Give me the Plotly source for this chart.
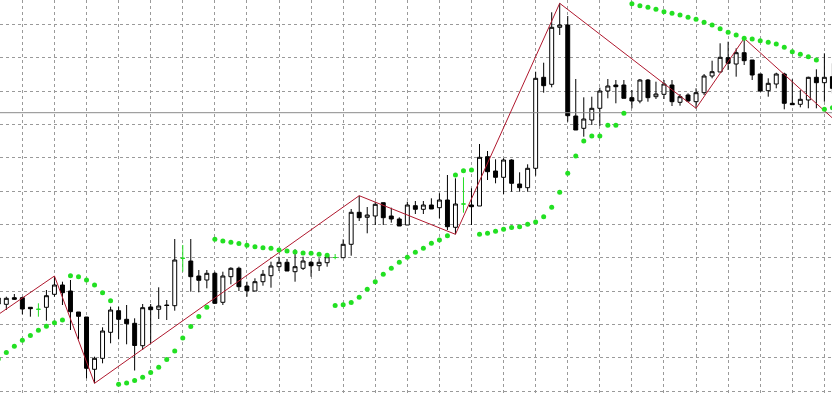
import plotly.graph_objects as go

# Prices in chart points (one grid step = 33.33 points)
opens = [87, 86.7, 93.3, 93.3, 83.7, 81.7, 83.7, 96.7, 106, 100,
         79, 74, 21.7, 32.7, 58.7, 80.3, 71.7, 67.7, 45.3, 84,
         81.7, 86, 85.3, 132.7, 130, 115, 111, 117.7, 88.7, 114.3,
         122.7, 105, 100, 109.3, 115.3, 124.3, 128.7, 119.3, 122.7, 128.7,
         125.3, 128.3, 133.5, 133.3, 146.7, 178.7, 173.7, 175, 188.3, 175,
         172, 166, 185.3, 181.7, 186, 183.3, 191, 163.7, 187, 186,
         185, 234.3, 220, 213.7, 231, 207, 203.3, 222.7, 313.7, 306.7,
         363.7, 366, 275, 262.7, 271, 282.7, 300, 306, 306, 293.3,
         290, 311, 294.3, 296.7, 306, 288.7, 296, 289.3, 298.3, 315,
         319, 333.3, 327, 338.3, 331, 317, 300.3, 307, 317, 287.7,
         286.7, 291, 313.7, 308.3, 314.3]
highs = [94, 94.3, 97, 94.3, 83.7, 87.7, 101, 115, 109.3, 111,
         79, 74, 34.3, 63.7, 84.3, 84.3, 86, 72.7, 87, 87,
         103.7, 91, 152, 146, 152, 121, 121, 119.3, 119.3, 123.7,
         124.3, 109.3, 112.7, 121, 129.3, 134.3, 132, 141.7, 134.3, 130,
         132.7, 136, 137, 151.7, 182, 195.3, 184, 189.3, 188.3, 183.3,
         173.7, 189.3, 190, 190, 192.7, 197.7, 216, 212.7, 213.7, 202.7,
         247, 240, 231.7, 232.7, 231.7, 218.7, 226.7, 319.3, 328.3, 378.7,
         387.7, 375, 312, 293.7, 294.3, 303.3, 312, 311, 311, 301,
         312, 312, 309.3, 311, 311, 297, 297.7, 302.7, 317, 330.3,
         347.7, 349.3, 342.7, 352.7, 331, 317, 312.7, 318.3, 318.3, 311.7,
         301, 314.3, 321.7, 337.7, 327.7]
lows = [81, 81, 91, 76.7, 74.3, 74.3, 70.3, 94.3, 86, 61,
        51.7, 12.7, 7.7, 27.7, 47.7, 51.7, 46.7, 20.5, 41, 47.7,
        72, 71, 80.3, 119.3, 99.3, 98.7, 102.7, 87, 86, 106.7,
        100, 94.3, 100, 105.3, 103.3, 120, 120, 109.3, 121, 114.3,
        120, 124.3, 131.7, 133.3, 135.3, 170, 157.7, 166, 166, 168.3,
        165, 166, 177, 177, 182, 172.7, 161, 156.7, 178.3, 166,
        185, 211, 207.7, 197, 199.3, 199.3, 199.3, 215.3, 298.3, 303.7,
        356, 269.3, 261, 254.3, 266, 265, 292.7, 287.7, 292.7, 282.7,
        287.7, 289.3, 292, 292, 285, 285.3, 289.3, 282.7, 296, 312.7,
        319, 321, 314.3, 326, 311, 299.3, 294.3, 302.7, 281.7, 286.3,
        283.7, 282.7, 282.7, 289.3, 297.7]
closes = [93, 92.7, 91.7, 82, 82.3, 81.7, 95.3, 106, 98.3, 79.3,
          74.7, 22.7, 32.7, 60, 81, 71.7, 67.3, 45.5, 83.3, 81.3,
          85, 85.5, 131, 132.7, 114.3, 110.7, 117.7, 87.7, 115, 122.7,
          104.3, 100.3, 109.3, 116.7, 125, 128.7, 120, 124.3, 130, 125.3,
          128.7, 134.3, 133.5, 146.7, 178.7, 173.3, 176, 186.7, 173.3, 172,
          165, 186, 181.7, 186, 182, 191, 164.3, 187, 187, 184.3,
          233.7, 219.3, 213.7, 231, 207.7, 203.3, 222.7, 312.7, 305.3, 363.7,
          366, 275.3, 261, 272, 282.7, 300, 305, 304.3, 292.7, 290,
          311, 293.3, 297, 307, 289.3, 294.3, 290, 298.3, 315, 319.3,
          333.7, 327.7, 338.3, 330.3, 316, 300, 307.7, 317, 287.7, 286.3,
          291.7, 313.7, 308.3, 313.7, 302.7]
sar = [32, 38.5, 44.7, 50.7, 55.5, 60.8, 64.8, 68.3, 71, 115.3,
       114.3, 111, 106, 98.3, 90.3, 6.7, 8, 10.5, 13.7, 18.5,
       23.7, 31.5, 40, 53, 64.5, 74.5, 83.7, 151.8, 150, 148.8,
       147.5, 145.7, 144.3, 143.3, 142.7, 141, 140, 139, 138, 137.7,
       136.7, 135.7, 85.5, 86.3, 88.5, 93.7, 101.7, 109.3, 116.7, 122.7,
       128.7, 133.7, 138.7, 142.7, 147.7, 151, 155.3, 216, 220.3, 221,
       156.7, 157.7, 159.7, 161.7, 163.5, 164.3, 166.8, 169, 174.3, 183.7,
       198.7, 217.7, 235, 250, 255, 255, 265.7, 265.7, 277.7, 387.3,
       385.3, 383.7, 381.7, 379.3, 377.7, 376, 373.7, 371.7, 368.7, 366,
       362.3, 358.7, 356, 352.7, 352, 350.3, 348.7, 347, 343.7, 339.3,
       336.7, 334.3, 331, 281.7, 283.3]
zz_idx = [0, 7, 12, 45, 57, 70, 87, 93, 104]
zz_val = [76.5, 115, 7.7, 195.3, 156.7, 387.7, 282.7, 352.7, 273]
bid_level = 278.3

bars = list(range(len(opens)))
doji = [i for i in bars if opens[i] == closes[i]]
norm = [i for i in bars if opens[i] != closes[i]]

def pick(arr, ids):
    return [arr[i] for i in ids]

fig = go.Figure()

fig.add_trace(go.Scatter(x=[bars[0] - 1, bars[-1] + 1], y=[bid_level, bid_level],
                         mode="lines", line=dict(color="#8a8a8a", width=1),
                         hoverinfo="skip", showlegend=False))

fig.add_trace(go.Candlestick(
    x=norm, open=pick(opens, norm), high=pick(highs, norm),
    low=pick(lows, norm), close=pick(closes, norm),
    increasing=dict(fillcolor="white", line=dict(color="black", width=1)),
    decreasing=dict(fillcolor="black", line=dict(color="black", width=1)),
    whiskerwidth=0, showlegend=False))

fig.add_trace(go.Candlestick(
    x=doji, open=pick(opens, doji), high=pick(highs, doji),
    low=pick(lows, doji), close=pick(closes, doji),
    increasing=dict(fillcolor="#22dd22", line=dict(color="#22dd22", width=1)),
    decreasing=dict(fillcolor="#22dd22", line=dict(color="#22dd22", width=1)),
    whiskerwidth=0, showlegend=False))

fig.add_trace(go.Scatter(x=zz_idx, y=zz_val, mode="lines",
                         line=dict(color="#b0182e", width=1),
                         hoverinfo="skip", showlegend=False))

fig.add_trace(go.Scatter(x=bars, y=sar, mode="markers",
                         marker=dict(color="#22e022", size=5, symbol="circle"),
                         hoverinfo="skip", showlegend=False))

fig.update_layout(
    width=832, height=393,
    margin=dict(l=0, r=0, t=0, b=0),
    paper_bgcolor="white", plot_bgcolor="white",
    boxgap=0.3,
    xaxis=dict(range=[0.212, 103.95], tick0=3, dtick=4,
               showgrid=True, gridcolor="#9a9a9a", gridwidth=1, griddash="3px,3px",
               showticklabels=False, ticks="", zeroline=False, showline=False,
               rangeslider=dict(visible=False), fixedrange=True),
    yaxis=dict(range=[-2, 391], tick0=0, dtick=100 / 3,
               showgrid=True, gridcolor="#9a9a9a", gridwidth=1, griddash="3px,3px",
               showticklabels=False, ticks="", zeroline=False, showline=False,
               fixedrange=True),
)

fig.write_html("out.html")
